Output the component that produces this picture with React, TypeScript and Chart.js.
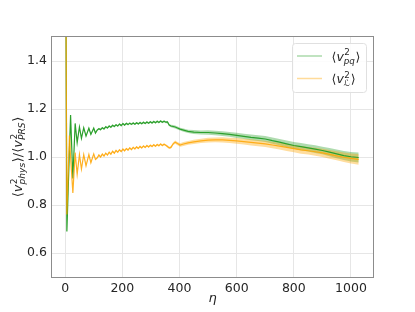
import React, { useEffect, useRef } from "react";
import { Chart, registerables } from "chart.js";

Chart.register(...registerables);

// ---- data ----
const ETA = [
  2, 6, 15, 19, 27, 35, 42, 50, 57, 65, 73, 83, 90, 100, 106,
  112, 118, 124, 130, 136, 142, 148, 154, 160, 166, 172, 178, 184, 190, 196,
  202, 208, 214, 220, 226, 232, 238, 244, 250, 256, 262, 268, 274, 280, 286,
  292, 298, 304, 310, 316, 322, 328, 334, 340, 346, 352,
  358, 364, 370, 378, 385, 393, 402, 414, 430, 450, 475, 500, 525, 550, 575,
  600, 625, 650, 675, 700, 725, 750, 775, 800, 825, 850, 875, 900, 925, 950,
  975, 1000, 1027,
];

const V_PQ = [
  1.9, 0.69, 1.03, 1.175, 0.91, 1.14, 1.06, 1.125, 1.078, 1.122, 1.087, 1.12, 1.094, 1.12, 1.1,
  1.112, 1.118, 1.114, 1.122, 1.117, 1.126, 1.121, 1.129, 1.124, 1.132, 1.127, 1.134, 1.129, 1.137, 1.131,
  1.139, 1.133, 1.14, 1.135, 1.141, 1.136, 1.142, 1.137, 1.143, 1.138, 1.144, 1.139, 1.145, 1.14, 1.146,
  1.141, 1.147, 1.142, 1.148, 1.143, 1.149, 1.144, 1.15, 1.145, 1.149, 1.145,
  1.146, 1.133, 1.129, 1.127, 1.125, 1.121, 1.116, 1.112, 1.107, 1.104, 1.102, 1.102, 1.1, 1.097, 1.094,
  1.09, 1.086, 1.082, 1.079, 1.075, 1.068, 1.062, 1.055, 1.048, 1.043, 1.038, 1.033, 1.027, 1.02, 1.013,
  1.006, 1.001, 0.998,
];

const V_L = [
  1.9, 0.76, 1.09, 1.0, 0.85, 1.018, 0.928, 1.01, 0.95, 1.01, 0.963, 1.01, 0.976, 1.013, 0.99,
  0.996, 1.008, 1.0, 1.012, 1.004, 1.016, 1.008, 1.02, 1.012, 1.024, 1.016, 1.027, 1.02, 1.03, 1.023,
  1.033, 1.026, 1.035, 1.029, 1.038, 1.031, 1.04, 1.034, 1.042, 1.036, 1.044, 1.038, 1.046, 1.04, 1.048,
  1.042, 1.049, 1.044, 1.051, 1.045, 1.052, 1.047, 1.054, 1.048, 1.053, 1.049,
  1.044, 1.038, 1.04, 1.055, 1.062, 1.056, 1.05, 1.054, 1.059, 1.063, 1.067, 1.07, 1.071, 1.071, 1.069,
  1.067, 1.064, 1.061, 1.058, 1.055, 1.05, 1.045, 1.04, 1.035, 1.03, 1.026, 1.022, 1.017, 1.011, 1.005,
  0.999, 0.994, 0.99,
];

const ERR_PQ = [
  0, 0.002, 0.003, 0.003, 0.003, 0.003, 0.003, 0.003, 0.003, 0.003, 0.003, 0.003, 0.003, 0.003, 0.003,
  0.004, 0.004, 0.004, 0.004, 0.004, 0.004, 0.004, 0.004, 0.004, 0.004, 0.004, 0.004, 0.004, 0.004, 0.004,
  0.004, 0.004, 0.004, 0.004, 0.004, 0.004, 0.004, 0.004, 0.004, 0.004, 0.004, 0.004, 0.004, 0.004, 0.004,
  0.004, 0.004, 0.004, 0.004, 0.004, 0.004, 0.004, 0.004, 0.004, 0.004, 0.004,
  0.005, 0.005, 0.005, 0.006, 0.006, 0.006, 0.006, 0.007, 0.007, 0.008, 0.008, 0.009, 0.009, 0.01, 0.01,
  0.011, 0.011, 0.012, 0.012, 0.012, 0.013, 0.013, 0.014, 0.014, 0.015, 0.015, 0.016, 0.016, 0.017, 0.018,
  0.019, 0.02, 0.021,
];

const ERR_L = [
  0, 0.002, 0.003, 0.003, 0.003, 0.003, 0.003, 0.003, 0.003, 0.003, 0.003, 0.003, 0.003, 0.003, 0.003,
  0.004, 0.004, 0.004, 0.004, 0.004, 0.004, 0.004, 0.004, 0.004, 0.004, 0.004, 0.004, 0.004, 0.004, 0.004,
  0.004, 0.004, 0.004, 0.004, 0.004, 0.004, 0.004, 0.004, 0.004, 0.004, 0.004, 0.004, 0.004, 0.004, 0.004,
  0.004, 0.004, 0.004, 0.004, 0.004, 0.004, 0.004, 0.004, 0.004, 0.004, 0.004,
  0.005, 0.005, 0.006, 0.006, 0.007, 0.007, 0.007, 0.008, 0.008, 0.009, 0.009, 0.01, 0.01, 0.011, 0.011,
  0.012, 0.012, 0.013, 0.013, 0.013, 0.014, 0.014, 0.015, 0.015, 0.016, 0.016, 0.017, 0.017, 0.018, 0.019,
  0.02, 0.021, 0.022,
];

const X_TICKS = [0, 200, 400, 600, 800, 1000];
const Y_TICKS = [0.6, 0.8, 1.0, 1.2, 1.4];
const X_MIN = -46;
const X_MAX = 1077;
const Y_MIN = 0.5;
const Y_MAX = 1.5;

const GREEN = "rgb(44,160,44)";
const GREEN_BAND = "rgba(44,160,44,0.38)";
const GREEN_LEG = "rgba(44,160,44,0.4)";
const ORANGE = "rgba(255,165,0,0.85)";
const ORANGE_BAND = "rgba(255,165,0,0.38)";
const ORANGE_LEG = "rgba(255,165,0,0.4)";
const FONT = "'DejaVu Sans', sans-serif";
const TEXT = "#262626";

type Seg = { t: string; it?: boolean; sup?: string; sub?: string };

function mathWidth(ctx: CanvasRenderingContext2D, segs: Seg[], size: number) {
  let w = 0;
  for (const s of segs) {
    ctx.font = `${s.it ? "italic " : ""}${size}px ${FONT}`;
    w += ctx.measureText(s.t).width;
    if (s.sup || s.sub) {
      const small = size * 0.7;
      let a = 0;
      let b = 0;
      if (s.sup) {
        ctx.font = `${small}px ${FONT}`;
        a = ctx.measureText(s.sup).width;
      }
      if (s.sub) {
        ctx.font = `italic ${small}px ${FONT}`;
        b = ctx.measureText(s.sub).width;
      }
      w += Math.max(a, b) + size * 0.05;
    }
  }
  return w;
}

function drawMath(ctx: CanvasRenderingContext2D, segs: Seg[], x: number, y: number, size: number) {
  let cx = x;
  ctx.textBaseline = "alphabetic";
  ctx.textAlign = "left";
  for (const s of segs) {
    ctx.font = `${s.it ? "italic " : ""}${size}px ${FONT}`;
    ctx.fillText(s.t, cx, y);
    cx += ctx.measureText(s.t).width;
    if (s.sup || s.sub) {
      const small = size * 0.7;
      let a = 0;
      let b = 0;
      if (s.sup) {
        ctx.font = `${small}px ${FONT}`;
        ctx.fillText(s.sup, cx + size * 0.03, y - size * 0.42);
        a = ctx.measureText(s.sup).width;
      }
      if (s.sub) {
        ctx.font = `italic ${small}px ${FONT}`;
        ctx.fillText(s.sub, cx, y + size * 0.24);
        b = ctx.measureText(s.sub).width;
      }
      cx += Math.max(a, b) + size * 0.05;
    }
  }
}

const Y_LABEL: Seg[] = [
  { t: "⟨" },
  { t: "v", it: true, sup: "2", sub: "phys" },
  { t: "⟩/⟨" },
  { t: "v", it: true, sup: "2", sub: "PRS" },
  { t: "⟩" },
];
const LEG_PQ: Seg[] = [{ t: "⟨" }, { t: "v", it: true, sup: "2", sub: "pq" }, { t: "⟩" }];
const LEG_L: Seg[] = [{ t: "⟨" }, { t: "v", it: true, sup: "2", sub: "ℒ" }, { t: "⟩" }];

const decorPlugin = {
  id: "decor",
  afterDatasetsDraw(chart: any) {
    const ctx: CanvasRenderingContext2D = chart.ctx;
    const a = chart.chartArea;
    ctx.save();
    // spines
    ctx.strokeStyle = "#8c8c8c";
    ctx.lineWidth = 1;
    ctx.strokeRect(Math.round(a.left) - 0.5, Math.round(a.top) - 0.5, Math.round(a.right - a.left) + 1, Math.round(a.bottom - a.top) + 1);

    // legend
    const lx = 292.5, ly = 43.5, lw = 74, lh = 49, r = 3;
    ctx.beginPath();
    ctx.moveTo(lx + r, ly);
    ctx.lineTo(lx + lw - r, ly);
    ctx.quadraticCurveTo(lx + lw, ly, lx + lw, ly + r);
    ctx.lineTo(lx + lw, ly + lh - r);
    ctx.quadraticCurveTo(lx + lw, ly + lh, lx + lw - r, ly + lh);
    ctx.lineTo(lx + r, ly + lh);
    ctx.quadraticCurveTo(lx, ly + lh, lx, ly + lh - r);
    ctx.lineTo(lx, ly + r);
    ctx.quadraticCurveTo(lx, ly, lx + r, ly);
    ctx.closePath();
    ctx.fillStyle = "rgba(255,255,255,0.85)";
    ctx.fill();
    ctx.strokeStyle = "#e0e0e0";
    ctx.stroke();

    ctx.lineWidth = 1.5;
    ctx.strokeStyle = GREEN_LEG;
    ctx.beginPath();
    ctx.moveTo(297, 56);
    ctx.lineTo(322, 56);
    ctx.stroke();
    ctx.strokeStyle = ORANGE_LEG;
    ctx.beginPath();
    ctx.moveTo(297, 78.5);
    ctx.lineTo(322, 78.5);
    ctx.stroke();

    ctx.fillStyle = TEXT;
    drawMath(ctx, LEG_PQ, 331.5, 60.5, 12.5);
    drawMath(ctx, LEG_L, 331.5, 83, 12.5);

    // y label
    const ys = 13;
    const w = mathWidth(ctx, Y_LABEL, ys);
    ctx.save();
    ctx.translate(22, 157);
    ctx.rotate(-Math.PI / 2);
    drawMath(ctx, Y_LABEL, -w / 2, 0, ys);
    ctx.restore();

    // x label
    ctx.font = `italic 13px ${FONT}`;
    ctx.textAlign = "center";
    ctx.textBaseline = "alphabetic";
    ctx.fillText("η", (a.left + a.right) / 2, 302);
    ctx.restore();
  },
};

function pts(ys: number[]) {
  return ETA.map((x, i) => ({ x, y: ys[i] }));
}

export default function App() {
  const ref = useRef<HTMLCanvasElement | null>(null);

  useEffect(() => {
    if (!ref.current) return;
    const pqHi = V_PQ.map((v, i) => v + ERR_PQ[i]);
    const pqLo = V_PQ.map((v, i) => v - ERR_PQ[i]);
    const lHi = V_L.map((v, i) => v + ERR_L[i]);
    const lLo = V_L.map((v, i) => v - ERR_L[i]);
    const common = { pointRadius: 0, pointHoverRadius: 0, tension: 0 };
    const chart = new Chart(ref.current, {
      type: "line",
      data: {
        datasets: [
          { ...common, data: pts(V_L), borderColor: ORANGE, borderWidth: 1.2, fill: false, order: 1 },
          { ...common, data: pts(V_PQ), borderColor: GREEN, borderWidth: 1.2, fill: false, order: 2 },
          { ...common, data: pts(lHi), borderWidth: 0, borderColor: "rgba(0,0,0,0)", fill: false, order: 3 },
          { ...common, data: pts(lLo), borderWidth: 0, borderColor: "rgba(0,0,0,0)", backgroundColor: ORANGE_BAND, fill: 2, order: 3 },
          { ...common, data: pts(pqHi), borderWidth: 0, borderColor: "rgba(0,0,0,0)", fill: false, order: 4 },
          { ...common, data: pts(pqLo), borderWidth: 0, borderColor: "rgba(0,0,0,0)", backgroundColor: GREEN_BAND, fill: 4, order: 4 },
        ] as any,
      },
      options: {
        animation: false,
        responsive: false,
        maintainAspectRatio: false,
        devicePixelRatio: 1,
        events: [],
        layout: { padding: { left: 0, right: 42, top: 37, bottom: 0 } },
        plugins: { legend: { display: false }, tooltip: { enabled: false }, title: { display: false } },
        scales: {
          x: {
            type: "linear",
            min: X_MIN,
            max: X_MAX,
            afterBuildTicks: (s: any) => {
              s.ticks = X_TICKS.map((v) => ({ value: v }));
            },
            afterFit: (s: any) => {
              s.height = 35;
            },
            grid: { color: "#e6e6e6", lineWidth: 1, drawTicks: false },
            border: { display: false },
            ticks: {
              padding: 4,
              color: TEXT,
              font: { family: FONT, size: 12.5 },
              maxRotation: 0,
              autoSkip: false,
              callback: (v: any) => String(v),
            },
          },
          y: {
            type: "linear",
            min: Y_MIN,
            max: Y_MAX,
            afterBuildTicks: (s: any) => {
              s.ticks = Y_TICKS.map((v) => ({ value: v }));
            },
            afterFit: (s: any) => {
              s.width = 52;
            },
            grid: { color: "#e6e6e6", lineWidth: 1, drawTicks: false },
            border: { display: false },
            ticks: {
              padding: 5,
              color: TEXT,
              font: { family: FONT, size: 12.5 },
              autoSkip: false,
              callback: (v: any) => Number(v).toFixed(1),
            },
          },
        },
      } as any,
      plugins: [decorPlugin],
    });
    return () => chart.destroy();
  }, []);

  return (
    <div style={{ position: "absolute", left: 0, top: 0, width: 415, height: 312, background: "#fff" }}>
      <canvas ref={ref} width={415} height={312} style={{ display: "block", width: 415, height: 312 }} />
    </div>
  );
}
